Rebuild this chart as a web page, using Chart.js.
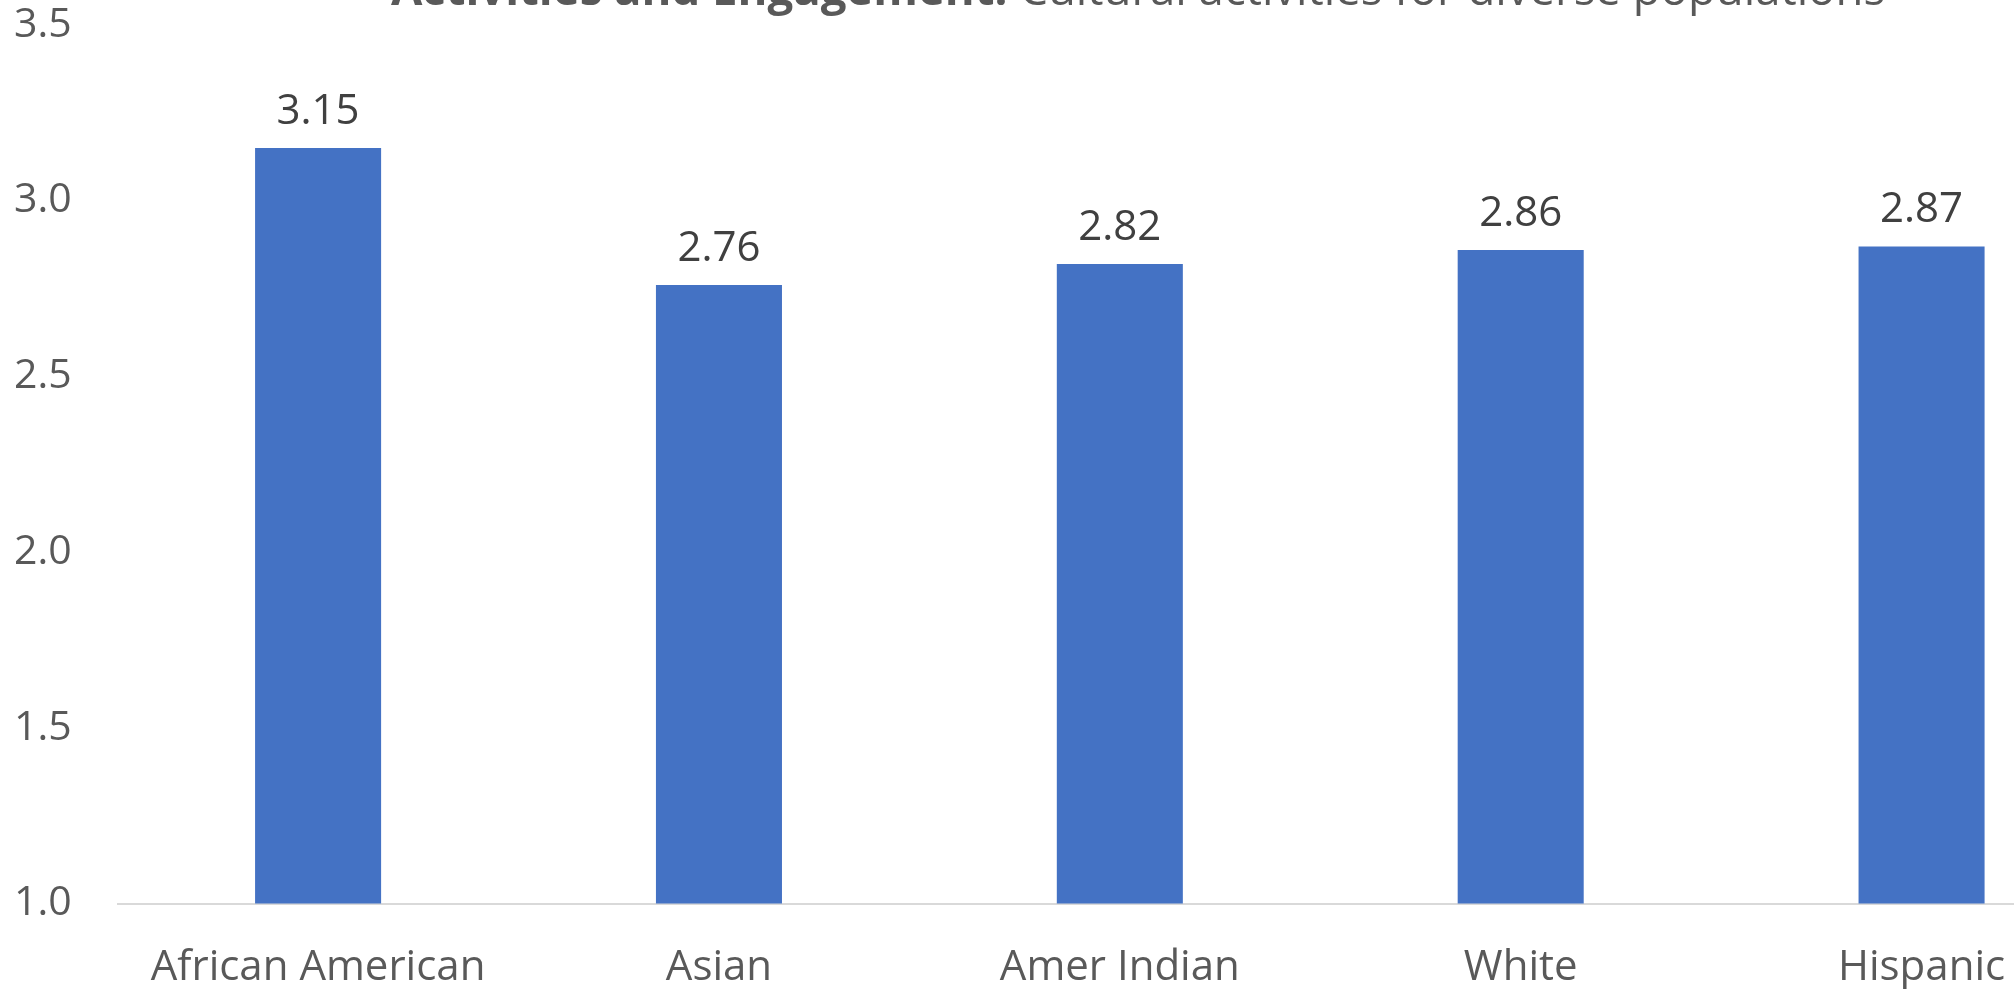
<!DOCTYPE html>
<html>
<head>
<meta charset="utf-8">
<script src="https://cdn.jsdelivr.net/npm/chart.js@4.4.1/dist/chart.umd.min.js"></script>
<style>
    html, body { margin: 0; padding: 0; background: #ffffff; overflow: hidden; }
    #chart-wrap { width: 2276px; height: 1024px; position: relative; }
</style>
</head>
<body>
<div id="chart-wrap">
    <canvas id="engagement-chart"></canvas>
</div>
<script>
// Chart data
const categories = ['African American', 'Asian', 'Amer Indian', 'White', 'Hispanic'];
const scores = [3.15, 2.76, 2.82, 2.86, 2.87];
const yTicks = [1.0, 1.5, 2.0, 2.5, 3.0, 3.5];
const titleBold = 'Activities and Engagement:';
const titleRest = ' Cultural activities for diverse populations';

const barColor = '#4472C4';
const textColor = '#595959';
const fontFamily = '"Open Sans", sans-serif';

// Two-part title (bold + regular), like the original
const titlePlugin = {
    id: 'mixedTitle',
    afterDraw(chart) {
        const ctx = chart.ctx;
        ctx.save();
        ctx.fillStyle = textColor;
        ctx.textBaseline = 'alphabetic';
        ctx.font = 'bold 45.5px ' + fontFamily;
        const w1 = ctx.measureText(titleBold).width;
        ctx.font = '45.5px ' + fontFamily;
        const w2 = ctx.measureText(titleRest).width;
        let x = chart.width / 2 - (w1 + w2) / 2;
        ctx.textAlign = 'left';
        ctx.font = 'bold 45.5px ' + fontFamily;
        ctx.fillText(titleBold, x, 5);
        ctx.font = '45.5px ' + fontFamily;
        ctx.fillText(titleRest, x + w1, 5);
        ctx.restore();
    }
};

// Value labels above bars
const valueLabels = {
    id: 'valueLabels',
    afterDatasetsDraw(chart) {
        const ctx = chart.ctx;
        ctx.save();
        ctx.fillStyle = '#404040';
        ctx.font = '42px ' + fontFamily;
        ctx.textAlign = 'center';
        ctx.textBaseline = 'alphabetic';
        chart.getDatasetMeta(0).data.forEach((bar, i) => {
            ctx.fillText(scores[i].toFixed(2), bar.x, bar.y - 24);
        });
        ctx.restore();
    }
};

var ctx = document.getElementById('engagement-chart').getContext('2d');
var engagementChart = new Chart(ctx, {
    type: 'bar',
    data: {
        labels: categories,
        datasets: [{
            label: 'Score',
            data: scores,
            backgroundColor: barColor,
            barPercentage: 1,
            categoryPercentage: 0.3144
        }]
    },
    options: {
        responsive: true,
        maintainAspectRatio: false,
        animation: false,
        layout: { padding: { left: 14, top: 25, right: 154, bottom: 0 } },
        plugins: {
            legend: { display: false },
            title: { display: false },
            tooltip: { enabled: false }
        },
        scales: {
            x: {
                grid: { display: false },
                border: { display: true, color: '#D9D9D9', width: 2 },
                ticks: {
                    color: textColor,
                    font: { family: fontFamily, size: 42 },
                    padding: 31,
                    maxRotation: 0,
                    autoSkip: false
                }
            },
            y: {
                min: yTicks[0],
                max: yTicks[yTicks.length - 1],
                grid: { display: false, drawTicks: false },
                border: { display: false },
                afterBuildTicks(scale) {
                    scale.ticks = yTicks.map(v => ({ value: v }));
                },
                // let the top label sit in the layout padding
                afterFit(scale) {
                    scale.paddingTop = 0;
                },
                ticks: {
                    color: textColor,
                    font: { family: fontFamily, size: 41 },
                    padding: 23,
                    crossAlign: 'far',
                    callback: v => Number(v).toFixed(1)
                }
            }
        }
    },
    plugins: [titlePlugin, valueLabels]
});
</script>
</body>
</html>
